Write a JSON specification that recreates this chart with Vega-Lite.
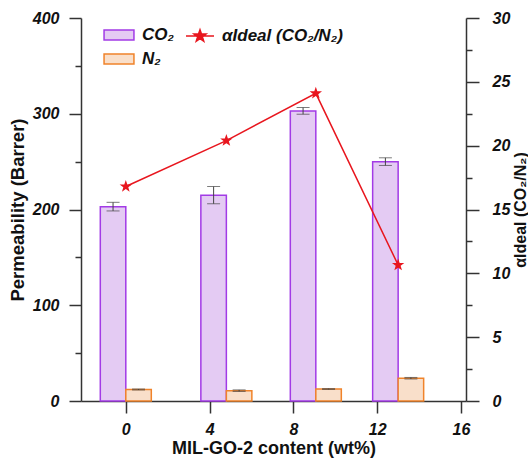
{
  "$schema": "https://vega.github.io/schema/vega-lite/v6.json",
  "width": 385,
  "height": 383,
  "autosize": "none",
  "padding": {"left": 81, "top": 18, "right": 62, "bottom": 57},
  "background": "white",
  "config": {
    "view": {"stroke": null},
    "font": "Liberation Sans",
    "axis": {
      "grid": false,
      "domainColor": "#333333",
      "domainWidth": 1.5,
      "tickColor": "#333333",
      "tickWidth": 1.5,
      "labelFont": "Liberation Sans",
      "labelFontSize": 16,
      "labelFontWeight": "bold",
      "labelFontStyle": "italic",
      "labelColor": "#111111",
      "titleFont": "Liberation Sans",
      "titleFontSize": 18.5,
      "titleFontWeight": "bold",
      "titleColor": "#111111"
    },
    "legend": {
      "labelFont": "Liberation Sans",
      "labelFontSize": 17,
      "labelFontWeight": "bold",
      "labelFontStyle": "italic",
      "labelColor": "#111111",
      "padding": 0,
      "rowPadding": 2
    }
  },
  "datasets": {
    "perm": [
      {"content": 0, "pos": 0, "gas": "CO₂", "perm": 203, "err": 4.5},
      {"content": 4, "pos": 4.8, "gas": "CO₂", "perm": 215, "err": 9},
      {"content": 8, "pos": 9.07, "gas": "CO₂", "perm": 303, "err": 3.5},
      {"content": 12, "pos": 13.0, "gas": "CO₂", "perm": 250, "err": 4},
      {"content": 0, "pos": 0, "gas": "N₂", "perm": 12, "err": 0.5},
      {"content": 4, "pos": 4.8, "gas": "N₂", "perm": 10.8, "err": 0.8},
      {"content": 8, "pos": 9.07, "gas": "N₂", "perm": 12.5, "err": 0.4},
      {"content": 12, "pos": 13.0, "gas": "N₂", "perm": 23.8, "err": 0.8}
    ],
    "sel": [
      {"content": 0, "pos": 0, "alpha": 16.8},
      {"content": 4, "pos": 4.8, "alpha": 20.4},
      {"content": 8, "pos": 9.07, "alpha": 24.1},
      {"content": 12, "pos": 13.0, "alpha": 10.65}
    ]
  },
  "encoding": {
    "x": {
      "field": "pos",
      "type": "quantitative",
      "title": "MIL-GO-2 content (wt%)",
      "scale": {"domain": [-1.9, 16], "nice": false, "zero": false},
      "axis": {"values": [0, 4, 8, 12, 16], "tickSize": 12, "labelPadding": 8, "titlePadding": 2, "titleFontSize": 18}
    }
  },
  "layer": [
    {
      "data": {"name": "perm"},
      "encoding": {
        "y": {
          "field": "perm",
          "type": "quantitative",
          "title": "Permeability (Barrer)",
          "scale": {"domain": [0, 400], "nice": false},
          "axis": {
            "values": [0, 50, 100, 150, 200, 250, 300, 350, 400],
            "labelExpr": "datum.value % 100 === 0 ? datum.label : ''",
            "tickSize": {"condition": {"test": "datum.value % 100 === 0", "value": 12}, "value": 6},
            "labelPadding": 10,
            "titlePadding": 5
          }
        }
      },
      "layer": [
        {
          "transform": [{"filter": "datum.gas === 'CO₂'"}],
          "mark": {"type": "bar", "width": 25.5, "xOffset": -12.75, "strokeWidth": 1.5},
          "encoding": {
            "fill": {
              "field": "gas",
              "type": "nominal",
              "scale": {"domain": ["CO₂", "N₂"], "range": ["#e4cbf3", "#f9dfca"]},
              "legend": {
                "title": null,
                "orient": "none",
                "legendX": 24,
                "legendY": 3,
                "symbolType": "M-1.15,-0.38H1.15V0.38H-1.15Z",
                "symbolSize": 676,
                "symbolStrokeWidth": 1.5,
                "labelOffset": 9
              }
            },
            "stroke": {
              "field": "gas",
              "type": "nominal",
              "scale": {"domain": ["CO₂", "N₂"], "range": ["#a23be6", "#f0832a"]},
              "legend": {
                "title": null,
                "orient": "none",
                "legendX": 24,
                "legendY": 3,
                "symbolType": "M-1.15,-0.38H1.15V0.38H-1.15Z",
                "symbolSize": 676,
                "symbolStrokeWidth": 1.5,
                "labelOffset": 9
              }
            }
          }
        },
        {
          "transform": [{"filter": "datum.gas === 'N₂'"}],
          "mark": {"type": "bar", "width": 25.5, "xOffset": 12.75, "strokeWidth": 1.5},
          "encoding": {
            "fill": {"field": "gas", "type": "nominal"},
            "stroke": {"field": "gas", "type": "nominal"}
          }
        },
        {
          "transform": [{"filter": "datum.gas === 'CO₂'"}],
          "mark": {
            "type": "errorbar",
            "ticks": {"size": 13, "xOffset": -12.75, "color": "#444444", "strokeWidth": 1},
            "rule": {"xOffset": -12.75, "color": "#444444", "strokeWidth": 1}
          },
          "encoding": {
            "y": {"field": "perm", "type": "quantitative", "title": "Permeability (Barrer)"},
            "yError": {"field": "err"}
          }
        },
        {
          "transform": [{"filter": "datum.gas === 'N₂'"}],
          "mark": {
            "type": "errorbar",
            "ticks": {"size": 13, "xOffset": 12.75, "color": "#444444", "strokeWidth": 1},
            "rule": {"xOffset": 12.75, "color": "#444444", "strokeWidth": 1}
          },
          "encoding": {
            "y": {"field": "perm", "type": "quantitative", "title": "Permeability (Barrer)"},
            "yError": {"field": "err"}
          }
        }
      ]
    },
    {
      "data": {"name": "sel"},
      "encoding": {
        "y": {
          "field": "alpha",
          "type": "quantitative",
          "title": "αIdeal (CO₂/N₂)",
          "scale": {"domain": [0, 30], "nice": false},
          "axis": {
            "orient": "right",
            "values": [0, 2.5, 5, 7.5, 10, 12.5, 15, 17.5, 20, 22.5, 25, 27.5, 30],
            "labelExpr": "datum.value % 5 === 0 ? datum.label : ''",
            "tickSize": {"condition": {"test": "datum.value % 5 === 0", "value": 13}, "value": 6},
            "labelPadding": 13,
            "titlePadding": 3,
            "titleFontSize": 16,
            "titleAngle": 270,
            "titleBaseline": "top"
          }
        }
      },
      "layer": [
        {
          "mark": {"type": "line", "strokeWidth": 1.5},
          "encoding": {
            "color": {
              "datum": "αIdeal (CO₂/N₂)",
              "scale": {"range": ["#e8161e"]},
              "legend": {
                "title": null,
                "orient": "none",
                "legendX": 104,
                "legendY": 3,
                "symbolType": "M-1,0H1M0,-0.45L0.106,-0.146L0.428,-0.139L0.171,0.056L0.265,0.364L0,0.18L-0.265,0.364L-0.171,0.056L-0.428,-0.139L-0.106,-0.146Z",
                "symbolSize": 784,
                "symbolFillColor": "#e8161e",
                "symbolStrokeColor": "#e8161e",
                "symbolStrokeWidth": 1.5,
                "labelOffset": 7
              }
            }
          }
        },
        {
          "mark": {
            "type": "point",
            "shape": "M0,-1L0.235,-0.324L0.951,-0.309L0.38,0.124L0.588,0.809L0,0.4L-0.588,0.809L-0.38,0.124L-0.951,-0.309L-0.235,-0.324Z",
            "filled": true,
            "size": 169,
            "color": "#e8161e",
            "opacity": 1
          },
          "encoding": {}
        },
        {
          "data": {"values": [{}]},
          "mark": {"type": "rule", "color": "#e8161e", "strokeWidth": 1.5},
          "encoding": {
            "x": {"datum": 9.72},
            "x2": {"datum": 11.3},
            "y": {"datum": 24.1}
          }
        },
        {
          "data": {"values": [{}]},
          "mark": {
            "type": "point",
            "shape": "M-1,-0.5L1,0L-1,0.5Z",
            "filled": true,
            "size": 225,
            "color": "#e8161e",
            "opacity": 1
          },
          "encoding": {
            "x": {"datum": 11.42},
            "y": {"datum": 24.1}
          }
        }
      ]
    }
  ],
  "resolve": {"scale": {"y": "independent"}}
}
